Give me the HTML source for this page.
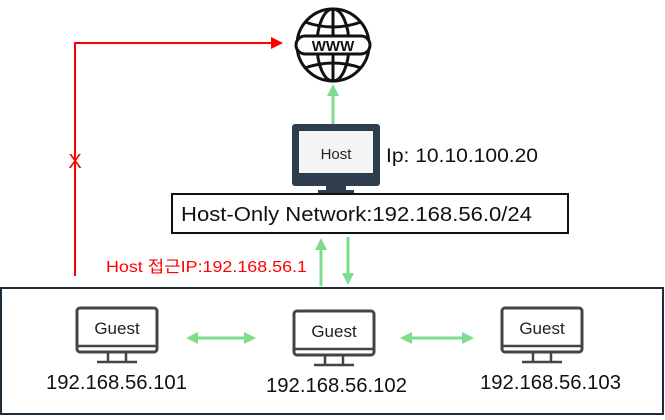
<!DOCTYPE html>
<html><head><meta charset="utf-8"><style>
body{margin:0;background:#fff;}
svg text{font-family:"Liberation Sans","Noto Sans CJK KR",sans-serif;}
</style></head><body>
<svg width="665" height="415" viewBox="0 0 665 415" xmlns="http://www.w3.org/2000/svg">
<defs>
<marker id="g" markerWidth="12" markerHeight="12" refX="8" refY="6" orient="auto-start-reverse" markerUnits="userSpaceOnUse"><path d="M0,0 L12,6 L0,12 z" fill="#7fdc8c"/></marker>
<marker id="r" markerWidth="12" markerHeight="12" refX="10" refY="6" orient="auto" markerUnits="userSpaceOnUse"><path d="M0,0 L12,6 L0,12 z" fill="#f00"/></marker>
<g id="guest">
<rect x="0" y="0" width="80" height="44" rx="3" fill="#fff" stroke="#444" stroke-width="3"/>
<line x1="0" y1="38" x2="80" y2="38" stroke="#444" stroke-width="2.5"/>
<line x1="31" y1="44" x2="31" y2="54" stroke="#444" stroke-width="2.5"/>
<line x1="49" y1="44" x2="49" y2="54" stroke="#444" stroke-width="2.5"/>
<line x1="20" y1="54" x2="60" y2="54" stroke="#444" stroke-width="2.5"/>
<text x="40" y="26" text-anchor="middle" font-size="17" fill="#222">Guest</text>
</g>
</defs>
<g stroke="#111" stroke-width="3" fill="none">
<circle cx="333" cy="45" r="36"/>
<ellipse cx="333" cy="45" rx="16" ry="36"/>
<line x1="333" y1="9" x2="333" y2="81"/>
<path d="M305,22 Q333,32 361,22"/>
<path d="M305,68 Q333,58 361,68"/>
<rect x="296" y="36" width="74" height="18" rx="9" fill="#fff"/>
</g>
<text x="333" y="51" text-anchor="middle" font-size="15" font-weight="bold" fill="#111">WWW</text>
<polyline points="75,276 75,43 281,43" fill="none" stroke="#f00" stroke-width="2" marker-end="url(#r)"/>
<text x="75" y="168" text-anchor="middle" font-size="20" fill="#f00">X</text>
<line x1="333" y1="124" x2="333" y2="88" stroke="#7fdc8c" stroke-width="3" marker-end="url(#g)"/>
<rect x="292" y="124" width="88" height="62" rx="3" fill="#2f3e4e"/>
<rect x="299" y="131" width="74" height="42" fill="#f4f4f4"/>
<rect x="326" y="186" width="20" height="5" fill="#2f3e4e"/>
<rect x="318" y="190" width="36" height="3" fill="#2f3e4e"/>
<text x="336" y="159" text-anchor="middle" font-size="15" fill="#222">Host</text>
<text x="386" y="162" font-size="19" fill="#111" textLength="152" lengthAdjust="spacingAndGlyphs">Ip: 10.10.100.20</text>
<rect x="172" y="194" width="396" height="39" fill="#fff" stroke="#111" stroke-width="2"/>
<text x="181" y="221" font-size="20" fill="#111" textLength="351" lengthAdjust="spacingAndGlyphs">Host-Only Network:192.168.56.0/24</text>
<line x1="321" y1="286" x2="321" y2="242" stroke="#7fdc8c" stroke-width="3" marker-end="url(#g)"/>
<line x1="348" y1="237" x2="348" y2="281" stroke="#7fdc8c" stroke-width="3" marker-end="url(#g)"/>
<text x="106" y="272" font-size="16" fill="#f00" textLength="201" lengthAdjust="spacingAndGlyphs">Host 접근IP:192.168.56.1</text>
<rect x="1" y="288" width="662" height="126" fill="none" stroke="#1e2e3a" stroke-width="2"/>
<use href="#guest" x="77" y="308"/>
<use href="#guest" x="294" y="311"/>
<use href="#guest" x="502" y="308"/>
<text x="46" y="389" font-size="20" fill="#111" textLength="141" lengthAdjust="spacingAndGlyphs">192.168.56.101</text>
<text x="266" y="392" font-size="20" fill="#111" textLength="141" lengthAdjust="spacingAndGlyphs">192.168.56.102</text>
<text x="480" y="389" font-size="20" fill="#111" textLength="141" lengthAdjust="spacingAndGlyphs">192.168.56.103</text>
<line x1="190" y1="338" x2="252" y2="338" stroke="#7fdc8c" stroke-width="3" marker-start="url(#g)" marker-end="url(#g)"/>
<line x1="404" y1="338" x2="470" y2="338" stroke="#7fdc8c" stroke-width="3" marker-start="url(#g)" marker-end="url(#g)"/>
</svg>
</body></html>
